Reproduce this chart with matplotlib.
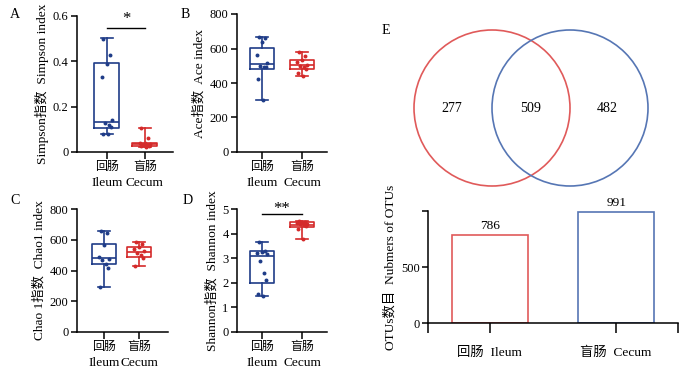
import matplotlib
matplotlib.use("Agg")
import matplotlib.pyplot as plt
from matplotlib.patches import Circle

plt.rcParams["font.family"] = ["Liberation Serif", "Noto Sans CJK SC"]
plt.rcParams["axes.unicode_minus"] = False

# ---- data ----
groups_cn = ["回肠", "盲肠"]
groups_en = ["Ileum", "Cecum"]

simpson_ileum = [0.50, 0.43, 0.39, 0.33, 0.14, 0.13, 0.12, 0.11, 0.08, 0.08]
simpson_cecum = [0.105, 0.06, 0.04, 0.038, 0.035, 0.033, 0.03, 0.028, 0.025, 0.022]
simpson_box_ileum = [0.104, 0.132, 0.394, 0.078, 0.504]  # q1, med, q3, low, high
simpson_box_cecum = [0.028, 0.034, 0.040, 0.022, 0.105]

ace_ileum = [664, 660, 635, 565, 515, 497, 495, 490, 425, 302]
ace_cecum = [577, 555, 535, 520, 505, 500, 495, 480, 460, 440]
ace_box_ileum = [480, 509, 602, 302, 664]
ace_box_cecum = [482, 506, 535, 438, 577]

chao1_ileum = [654, 643, 567, 490, 475, 469, 443, 414, 290]
chao1_cecum = [584, 570, 555, 540, 525, 515, 500, 480, 430]
chao1_box_ileum = [442, 480, 575, 290, 654]
chao1_box_cecum = [490, 523, 551, 429, 584]

shannon_ileum = [3.65, 3.30, 3.25, 3.22, 3.18, 2.90, 2.40, 2.10, 1.55, 1.45]
shannon_cecum = [4.51, 4.47, 4.45, 4.42, 4.40, 4.37, 4.33, 4.30, 4.20, 3.80]
shannon_box_ileum = [2.01, 3.08, 3.29, 1.45, 3.67]
shannon_box_cecum = [4.25, 4.35, 4.46, 3.80, 4.51]

venn_only_ileum = 277
venn_shared = 509
venn_only_cecum = 482

otu_labels = ["回肠  Ileum", "盲肠  Cecum"]
otu_counts = [786, 991]

# ---- style ----
c_ileum = "#1f3c88"
c_cecum = "#d42a2a"
jitter = [-0.14, 0.14, 0.0, -0.2, 0.2, -0.07, 0.07, 0.17, -0.17, 0.03]
FS = 9.6
TFS = 9
CN_FS = 8.6

W, H = 700, 384
fig = plt.figure(figsize=(W / 100, H / 100), dpi=100)


def px_rect(x0, x1, y_top, y_bot):
    return [x0 / W, 1 - y_bot / H, (x1 - x0) / W, (y_bot - y_top) / H]


def style_axes(ax):
    for s in ["top", "right"]:
        ax.spines[s].set_visible(False)
    for s in ["left", "bottom"]:
        ax.spines[s].set_linewidth(1.1)
    ax.tick_params(direction="out", width=1.1, length=4, labelsize=TFS, pad=2)


def box_panel(rect, data, boxes, ylim, yticks, yticklabels, ylabel, xlim, width, letter, letter_xy):
    ax = fig.add_axes(rect)
    style_axes(ax)
    colors = [c_ileum, c_cecum]
    stats = []
    for b in boxes:
        stats.append(dict(q1=b[0], med=b[1], q3=b[2], whislo=b[3], whishi=b[4], fliers=[]))
    for i, (st, col) in enumerate(zip(stats, colors)):
        ax.bxp([st], positions=[i + 1], widths=width, showfliers=False,
               boxprops=dict(color=col, linewidth=1.2),
               medianprops=dict(color=col, linewidth=1.2),
               whiskerprops=dict(color=col, linewidth=1.2),
               capprops=dict(color=col, linewidth=1.2),
               capwidths=width * 0.5)
        pts = data[i]
        xs = [i + 1 + jitter[k % len(jitter)] * width for k in range(len(pts))]
        ax.scatter(xs, pts, s=8, color=col, zorder=3, linewidths=0)
    ax.set_xlim(*xlim)
    ax.set_ylim(*ylim)
    ax.set_yticks(yticks)
    ax.set_yticklabels(yticklabels)
    ax.set_xticks([1, 2])
    ax.set_xticklabels([])
    ax.tick_params(axis="x", length=5)
    for i in range(2):
        ax.annotate(groups_cn[i], xy=(i + 1, 0), xycoords=("data", "axes fraction"),
                    xytext=(0, -11), textcoords="offset points",
                    ha="center", va="center", fontsize=CN_FS)
        ax.annotate(groups_en[i], xy=(i + 1, 0), xycoords=("data", "axes fraction"),
                    xytext=(0, -22.5), textcoords="offset points",
                    ha="center", va="center", fontsize=FS)
    ax.set_ylabel(ylabel, fontsize=FS, labelpad=3)
    fig.text(letter_xy[0] / W, 1 - letter_xy[1] / H, letter, fontsize=FS + 0.5,
             ha="center", va="center")
    return ax


axA = box_panel(px_rect(77, 173, 16, 152), [simpson_ileum, simpson_cecum],
                [simpson_box_ileum, simpson_box_cecum], (0, 0.6), [0, 0.2, 0.4, 0.6],
                ["0", "0.2", "0.4", "0.6"], "Simpson指数  Simpson index",
                (0.21, 2.74), 0.66, "A", (15, 15))
axA.plot([1, 2], [0.546, 0.546], color="black", linewidth=1.0, clip_on=False)
axA.text(1.5, 0.55, "*", ha="center", va="bottom", fontsize=12)

box_panel(px_rect(237, 327, 14, 152), [ace_ileum, ace_cecum],
          [ace_box_ileum, ace_box_cecum], (0, 800), [0, 200, 400, 600, 800],
          ["0", "200", "400", "600", "800"], "Ace指数  Ace index",
          (0.375, 2.625), 0.62, "B", (185, 15))

box_panel(px_rect(77, 168, 209, 332), [chao1_ileum, chao1_cecum],
          [chao1_box_ileum, chao1_box_cecum], (0, 800), [0, 200, 400, 600, 800],
          ["0", "200", "400", "600", "800"], "Chao 1指数  Chao1 index",
          (0.23, 2.83), 0.68, "C", (15, 200))

axD = box_panel(px_rect(237, 327, 209, 332), [shannon_ileum, shannon_cecum],
                [shannon_box_ileum, shannon_box_cecum], (0, 5), [0, 1, 2, 3, 4, 5],
                ["0", "1", "2", "3", "4", "5"], "Shannon指数  Shannon index",
                (0.375, 2.625), 0.6, "D", (188, 200))
axD.plot([1, 2], [4.80, 4.80], color="black", linewidth=1.0, clip_on=False)
axD.text(1.5, 4.68, "**", ha="center", va="bottom", fontsize=12)

# ---- Venn ----
axV = fig.add_axes(px_rect(380, 700, 0, 200))
axV.set_xlim(0, 320)
axV.set_ylim(200, 0)
axV.set_aspect("equal")
axV.axis("off")
r, cy, cx_red, cx_blue = 78, 108, 112, 190
axV.add_patch(Circle((cx_red, cy), r, fill=False, edgecolor="#e05a5a", linewidth=1.2))
axV.add_patch(Circle((cx_blue, cy), r, fill=False, edgecolor="#5676b4", linewidth=1.2))
axV.text(cx_red - 40, cy, str(venn_only_ileum), ha="center", va="center", fontsize=FS + 0.5)
axV.text((cx_red + cx_blue) / 2, cy, str(venn_shared), ha="center", va="center", fontsize=FS + 0.5)
axV.text(cx_blue + 37, cy, str(venn_only_cecum), ha="center", va="center", fontsize=FS + 0.5)
fig.text(386 / W, 1 - 30 / H, "E", fontsize=FS + 0.5, ha="center", va="center")

# ---- OTU bar chart ----
axF = fig.add_axes(px_rect(428, 678, 211, 323))
style_axes(axF)
xpos = list(range(len(otu_counts)))
bars = axF.bar(xpos, otu_counts, width=0.6, fill=False,
               edgecolor=["#e05a5a", "#5676b4"], linewidth=1.2)
for x, v in zip(xpos, otu_counts):
    axF.text(x, v + 25, str(v), ha="center", va="bottom", fontsize=FS)
axF.set_xlim(-0.49, 1.49)
axF.set_ylim(0, 1000)
axF.set_yticks([0, 500, 1000])
axF.set_yticklabels(["0", "500", ""])
axF.set_xticks([-0.49] + xpos + [1.49])
axF.set_xticklabels([""] + otu_labels + [""], fontsize=FS)
axF.tick_params(axis="x", length=7, pad=10)
axF.set_ylabel("OTUs数目  Nubmers of OTUs", fontsize=FS, labelpad=3)

fig.savefig("out.png", dpi=100)
